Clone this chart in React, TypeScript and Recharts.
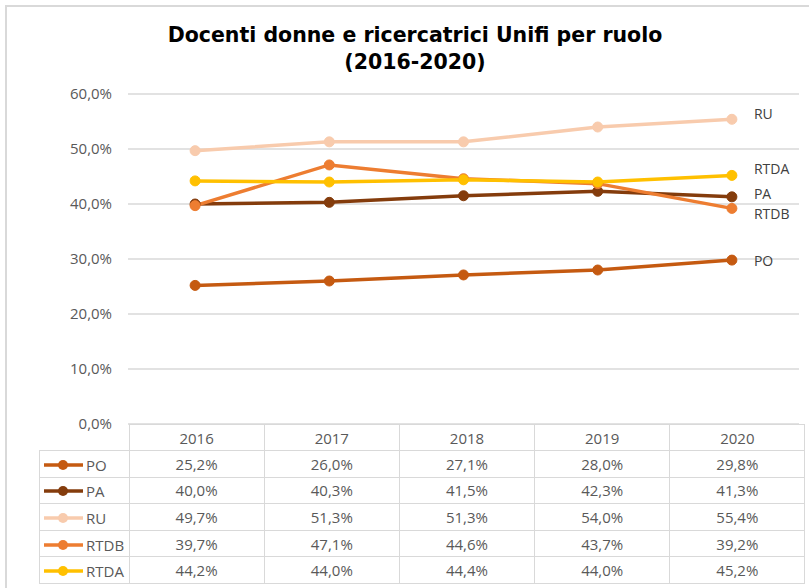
import React from "react";
import { LineChart, Line, XAxis, YAxis, CartesianGrid } from "recharts";

const years = ["2016", "2017", "2018", "2019", "2020"];
const po = [25.2, 26.0, 27.1, 28.0, 29.8];
const pa = [40.0, 40.3, 41.5, 42.3, 41.3];
const ru = [49.7, 51.3, 51.3, 54.0, 55.4];
const rtdb = [39.7, 47.1, 44.6, 43.7, 39.2];
const rtda = [44.2, 44.0, 44.4, 44.0, 45.2];
const yTicks = [0, 10, 20, 30, 40, 50, 60];

// end label vertical nudge (px), like Excel spreading overlapping labels
const series = [
  { key: "PO", values: po, color: "#C55A11", labelDy: 2 },
  { key: "PA", values: pa, color: "#843C0C", labelDy: -2 },
  { key: "RU", values: ru, color: "#F8CBAD", labelDy: -4 },
  { key: "RTDB", values: rtdb, color: "#ED7D31", labelDy: 7 },
  { key: "RTDA", values: rtda, color: "#FFC000", labelDy: -5 },
];

const data = years.map((year, i) => {
  const row: Record<string, any> = { year };
  series.forEach((s) => (row[s.key] = s.values[i]));
  return row;
});

const W = 809;
const H = 588;
const plotLeft = 128;
const plotRight = 799;
const plotTop = 94;
const plotBottom = 424;
const colW = (plotRight - plotLeft) / years.length;
const font = "'Open Sans', sans-serif";
const grey = "#595959";
const border = "1px solid #d9d9d9";

const fmt = (v: number) => v.toFixed(1).replace(".", ",") + "%";

function endLabel(name: string, dy: number) {
  return (p: any) => {
    if (p.index !== years.length - 1) return <g key={name + p.index} />;
    return (
      <text
        key={name + p.index}
        x={p.x + 22}
        y={p.y + dy}
        fill="#404040"
        fontSize={14}
        fontFamily={font}
        dominantBaseline="middle"
      >
        {name}
      </text>
    );
  };
}

export default function App() {
  return (
    <div
      style={{
        position: "fixed",
        left: 0,
        top: 0,
        width: W,
        height: H,
        overflow: "hidden",
        background: "#fff",
      }}
    >
      <div
        style={{
          position: "absolute",
          left: 5,
          top: 5,
          width: W + 20,
          height: H + 20,
          border: "2px solid #d9d9d9",
        }}
      />
      <div
        style={{
          position: "absolute",
          left: 0,
          top: 22,
          width: 830,
          textAlign: "center",
          fontFamily: "'DejaVu Sans', sans-serif",
          fontWeight: "bold",
          fontSize: 20.5,
          lineHeight: "27px",
          color: "#000",
        }}
      >
        Docenti donne e ricercatrici Unifi per ruolo
        <br />
        (2016-2020)
      </div>
      <div style={{ position: "absolute", left: 0, top: 0 }}>
        <LineChart
          width={W}
          height={H}
          data={data}
          margin={{ top: plotTop, right: W - plotRight, bottom: H - plotBottom, left: 0 }}
        >
          <CartesianGrid vertical={false} stroke="#d9d9d9" strokeWidth={1.5} />
          <XAxis
            dataKey="year"
            hide
            padding={{ left: colW / 2, right: colW / 2 }}
          />
          <YAxis
            width={plotLeft}
            domain={[0, 60]}
            ticks={yTicks}
            tickFormatter={fmt}
            axisLine={false}
            tickLine={false}
            tickSize={0}
            tickMargin={16}
            tick={{ fill: grey, fontSize: 15, fontFamily: font }}
          />
          {series.map((s) => (
            <Line
              key={s.key}
              dataKey={s.key}
              stroke={s.color}
              strokeWidth={3.5}
              dot={{ r: 5, fill: s.color, stroke: s.color, strokeWidth: 1 }}
              activeDot={false}
              isAnimationActive={false}
              label={endLabel(s.key, s.labelDy)}
            />
          ))}
        </LineChart>
      </div>
      <table
        style={{
          position: "absolute",
          left: 39,
          top: plotBottom,
          borderCollapse: "collapse",
          tableLayout: "fixed",
          fontFamily: font,
          fontSize: 15,
          color: grey,
        }}
      >
        <tbody>
          <tr style={{ height: 26 }}>
            <td style={{ width: plotLeft - 39, padding: 0 }} />
            {years.map((y) => (
              <td
                key={y}
                style={{ width: colW, border, padding: 0, textAlign: "center" }}
              >
                {y}
              </td>
            ))}
          </tr>
          {series.map((s) => (
            <tr key={s.key} style={{ height: 26.6 }}>
              <td style={{ border, padding: 0, whiteSpace: "nowrap" }}>
                <svg width={46} height={12} style={{ verticalAlign: "middle" }}>
                  <line x1={4} x2={43} y1={6} y2={6} stroke={s.color} strokeWidth={3.5} />
                  <circle cx={23} cy={6} r={5} fill={s.color} />
                </svg>
                <span style={{ verticalAlign: "middle" }}>{s.key}</span>
              </td>
              {s.values.map((v, i) => (
                <td key={i} style={{ border, padding: 0, textAlign: "center" }}>
                  {fmt(v)}
                </td>
              ))}
            </tr>
          ))}
        </tbody>
      </table>
    </div>
  );
}
